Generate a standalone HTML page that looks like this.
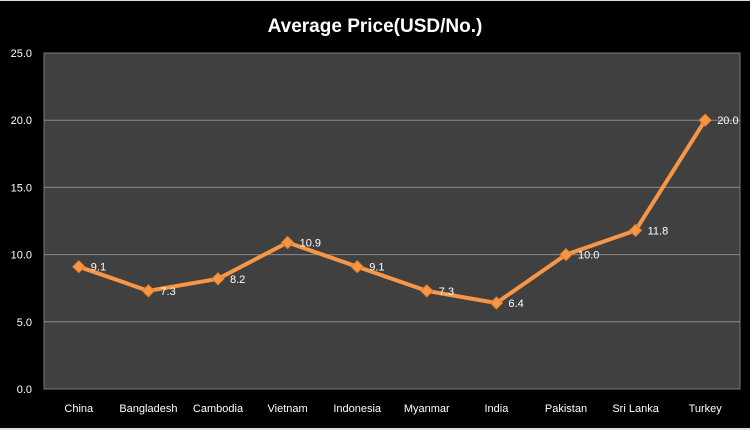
<!DOCTYPE html>
<html><head><meta charset="utf-8"><style>
html,body{margin:0;padding:0;background:#000;}
svg{display:block;font-family:"Liberation Sans",sans-serif;}
</style></head><body>
<svg width="750" height="430" viewBox="0 0 750 430">
<rect x="0" y="0" width="750" height="430" fill="#000"/>
<rect x="0" y="0" width="750" height="1" fill="#ddd"/>
<rect x="0" y="428" width="750" height="2" fill="#ddd"/>
<text x="375" y="32" text-anchor="middle" fill="#fff" font-size="19" font-weight="bold">Average Price(USD/No.)</text>
<rect x="44" y="53" width="696" height="336" fill="#404040" stroke="#7a7a7a" stroke-width="1"/>
<g id="grid"></g><g id="yt"></g><g id="xt"></g><g id="series"></g>
</svg>
<script>
const categories=["China","Bangladesh","Cambodia","Vietnam","Indonesia","Myanmar","India","Pakistan","Sri Lanka","Turkey"];
const values=[9.1,7.3,8.2,10.9,9.1,7.3,6.4,10.0,11.8,20.0];
const yTicks=[0,5,10,15,20,25];
const ns="http://www.w3.org/2000/svg";
const L=44,R=740,T=53,B=389,YMAX=25;
const y=v=>B-(v/YMAX)*(B-T);
const x=i=>L+(i+0.5)*(R-L)/categories.length;
function mk(t,a,p){const e=document.createElementNS(ns,t);for(const k in a)e.setAttribute(k,a[k]);p.appendChild(e);return e;}
const g=document.getElementById('grid'),yt=document.getElementById('yt'),xt=document.getElementById('xt'),s=document.getElementById('series');
yTicks.forEach(v=>{
 if(v>0&&v<YMAX){const l=mk('line',{x1:L,x2:R,y1:y(v),y2:y(v),stroke:'#8a8a8a','stroke-width':1},g);
 
 }
 const t=mk('text',{x:32,y:y(v)+4,'text-anchor':'end',fill:'#fff','font-size':11},yt);t.textContent=v.toFixed(1);
 
 
});
categories.forEach((c,i)=>{
 const t=mk('text',{x:x(i),y:412,'text-anchor':'middle',fill:'#fff','font-size':11},xt);t.textContent=c;
 
 
});
const line=mk('polyline',{points:values.map((v,i)=>x(i)+','+y(v)).join(' '),fill:'none',stroke:'#f79646','stroke-width':4,'stroke-linejoin':'round'},s);


values.forEach((v,i)=>{
 const cx=x(i),cy=y(v);
 const m=mk('polygon',{points:`${cx},${cy-6} ${cx+6},${cy} ${cx},${cy+6} ${cx-6},${cy}`,fill:'#f79646',stroke:'#e07f2c','stroke-width':1},s);
 
 
 const t=mk('text',{x:cx+12,y:cy+4,fill:'#fff','font-size':11},s);t.textContent=v.toFixed(1);
 
 
});
</script>
</body></html>
